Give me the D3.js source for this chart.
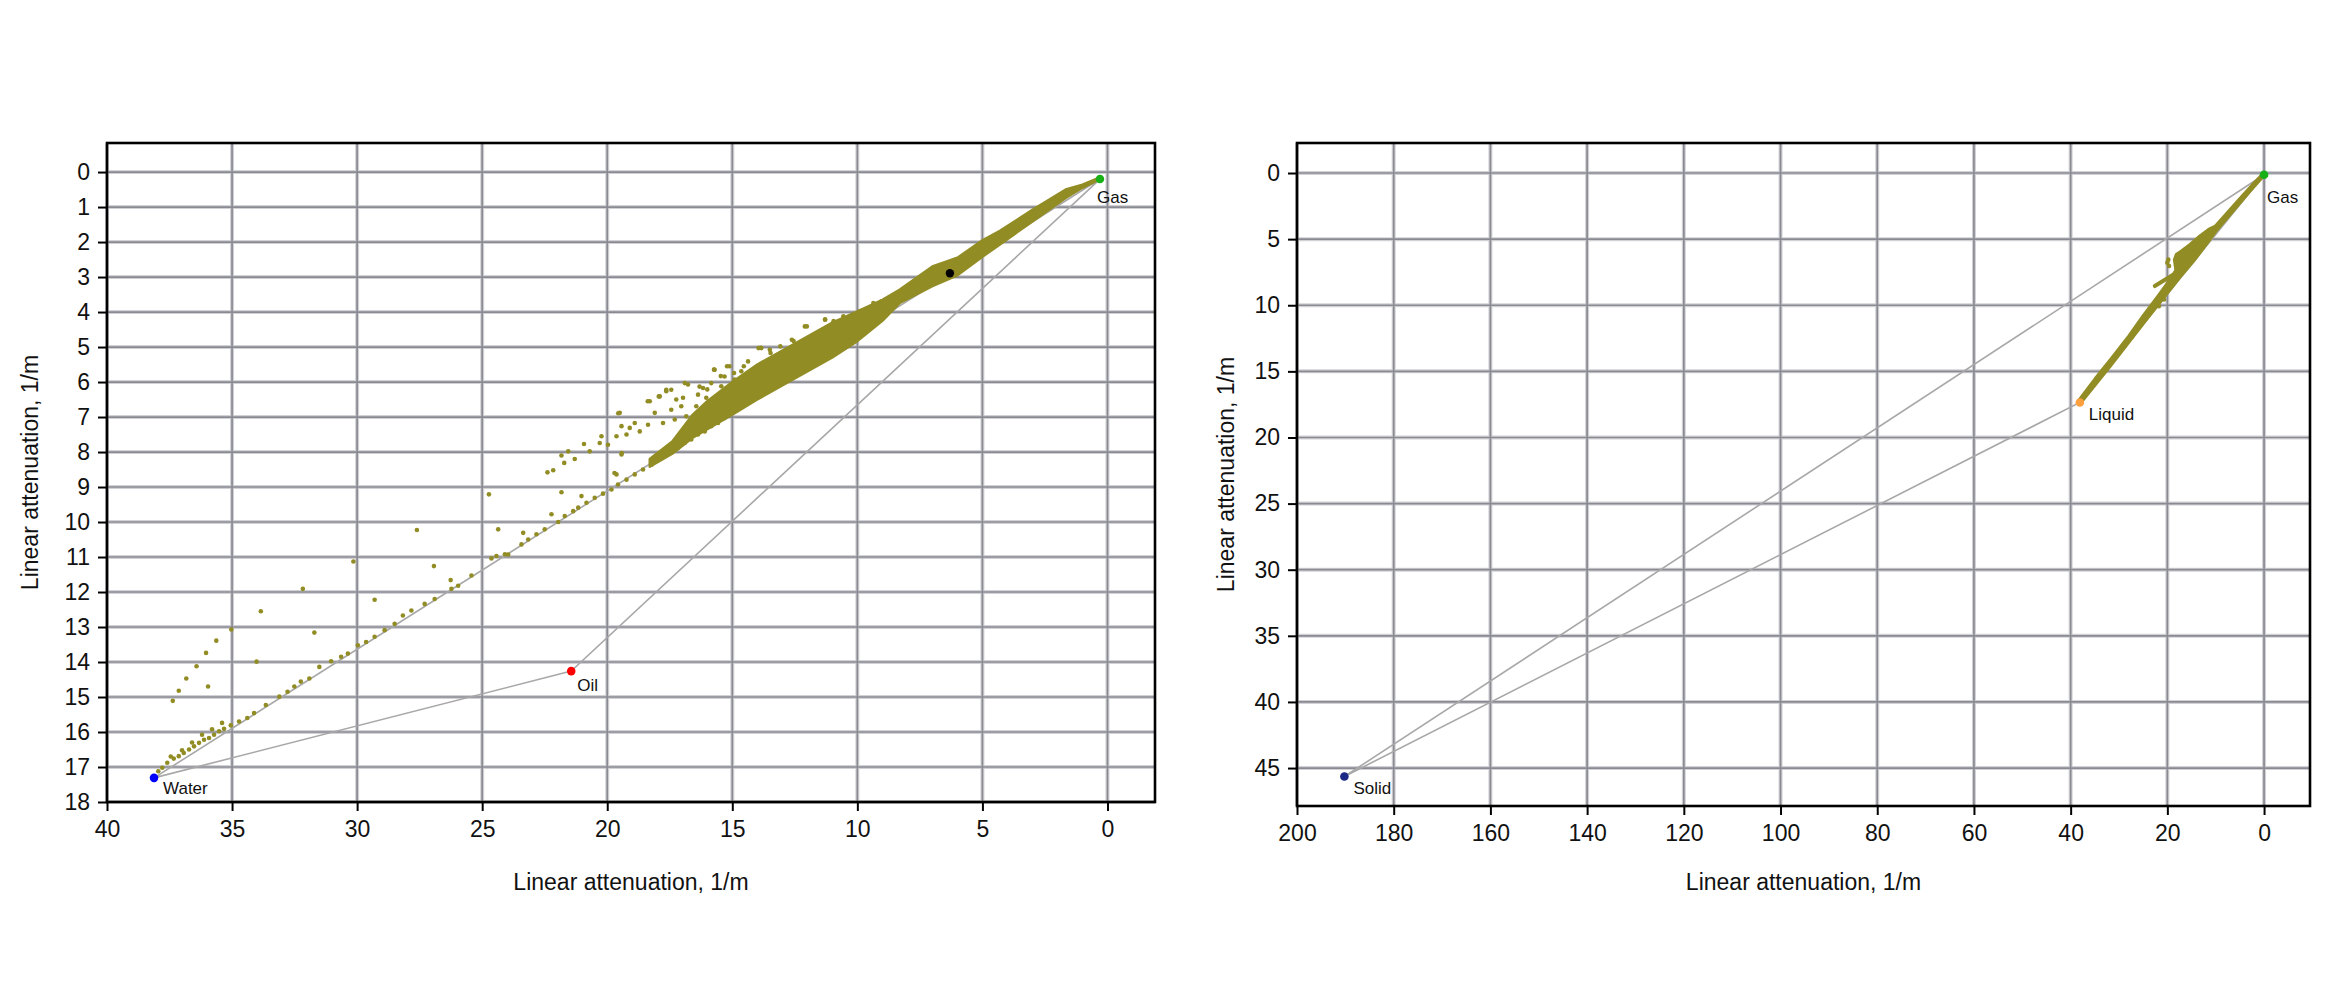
<!DOCTYPE html>
<html>
<head>
<meta charset="utf-8">
<script src="https://cdn.jsdelivr.net/npm/d3@7"></script>
<style>
  body { margin: 0; background: #fff; }
  svg { display: block; }
  text { font-family: "Liberation Sans", Arial, sans-serif; fill: #111; }
</style>
</head>
<body>
<svg id="chart" width="2336" height="1000"></svg>
<script>
// ---- left panel : gas / oil / water ----
const leftXTicks = [40, 35, 30, 25, 20, 15, 10, 5, 0];
const leftYTicks = [0, 1, 2, 3, 4, 5, 6, 7, 8, 9, 10, 11, 12, 13, 14, 15, 16, 17, 18];
const leftRefs = [
  { name: "Gas", x: 0.3, y: 0.2, color: "#17b117" },
  { name: "Oil", x: 21.44, y: 14.26, color: "#ff0000" },
  { name: "Water", x: 38.12, y: 17.31, color: "#0000ff" }
];
const leftMeasured = [{ x: 6.3, y: 2.89 }];
// outline of the dense cloud between gas and ~18 1/m
const leftCore = [
  [0.3, 0.15], [1.0, 0.36], [1.67, 0.5], [3.0, 1.08], [4.3, 1.68], [5.0, 1.95], [6.0, 2.45],
  [7.0, 2.7], [8.3, 3.36], [9.0, 3.65], [10.0, 3.98], [11.0, 4.3], [12.0, 4.7], [13.0, 5.1],
  [14.0, 5.5], [15.0, 6.0], [16.0, 6.55], [16.6, 6.95], [17.4, 7.7], [18.3, 8.2],
  [18.3, 8.42], [17.4, 8.05], [16.6, 7.6], [16.0, 7.35], [15.0, 6.93], [14.0, 6.5], [13.0, 6.1],
  [12.0, 5.7], [11.0, 5.3], [10.0, 4.83], [9.0, 4.25], [8.3, 3.74], [7.0, 3.26], [6.0, 2.95],
  [5.0, 2.42], [4.3, 2.07], [3.0, 1.41], [1.67, 0.74], [1.0, 0.45], [0.4, 0.24]
];
// lower branch (towards water)
const leftBranch = [
  [37.95, 17.12], [37.79, 17.02], [37.59, 16.88], [37.33, 16.76], [37.13, 16.69], [36.93, 16.6],
  [36.72, 16.5], [36.52, 16.41], [36.32, 16.31], [36.12, 16.22], [35.92, 16.17], [35.72, 16.08],
  [35.52, 15.98], [35.32, 15.91], [35.05, 15.81], [37.45, 16.7], [37.0, 16.52], [36.6, 16.3],
  [36.2, 16.08], [35.8, 15.92], [35.4, 15.74], [34.72, 15.7], [34.39, 15.6], [34.12, 15.46],
  [33.65, 15.23], [33.11, 14.99], [32.78, 14.85], [32.51, 14.7], [32.25, 14.56], [31.91, 14.47],
  [31.51, 14.14], [31.04, 13.98], [30.64, 13.85], [30.37, 13.76], [29.97, 13.52], [29.64, 13.43],
  [29.3, 13.28], [28.9, 13.09], [28.5, 12.91], [28.17, 12.67], [27.83, 12.53], [27.3, 12.34],
  [26.9, 12.2], [26.23, 11.91], [25.96, 11.82], [25.43, 11.53], [24.63, 11.04], [24.43, 10.97],
  [24.09, 10.92], [23.96, 10.93], [23.43, 10.64], [23.16, 10.5], [22.83, 10.35], [22.5, 10.21],
  [21.96, 10.0], [21.7, 9.83], [21.36, 9.69], [21.16, 9.59], [20.83, 9.45], [20.5, 9.31],
  [20.17, 9.19], [19.83, 9.07], [19.57, 8.93], [19.23, 8.79], [18.9, 8.64], [18.57, 8.5],
  [18.23, 8.36], [17.97, 8.12], [17.7, 8.07], [17.44, 7.98], [17.17, 7.88], [16.9, 7.74],
  [16.64, 7.64], [16.37, 7.5], [16.1, 7.41], [15.84, 7.26], [15.57, 7.17], [15.31, 7.03]
];
// scattered points above the branch
const leftScatter = [
  [37.37, 15.11], [37.13, 14.82], [36.83, 14.47], [36.42, 14.12], [36.04, 13.74], [35.96, 14.7],
  [35.63, 13.39], [35.03, 13.07], [34.02, 13.99], [33.85, 12.55], [32.17, 11.91], [31.71, 13.16],
  [30.15, 11.13], [29.3, 12.22], [27.61, 10.23], [26.93, 11.26], [26.26, 11.66], [24.73, 9.21],
  [24.36, 10.21], [22.39, 8.58], [22.16, 8.52], [21.83, 8.1], [21.72, 8.31], [21.56, 7.98],
  [21.3, 8.2], [20.93, 7.77], [20.7, 7.98], [20.3, 7.74], [20.23, 7.55], [19.97, 7.79],
  [19.63, 7.55], [19.5, 6.88], [19.43, 7.26], [19.23, 7.5], [19.1, 7.31], [18.9, 7.17],
  [18.7, 7.41], [18.37, 7.22], [18.3, 6.55], [18.1, 6.88], [17.9, 6.41], [17.77, 7.17],
  [17.64, 6.26], [17.44, 6.22], [17.44, 6.79], [17.3, 7.07], [17.24, 6.5], [17.04, 6.69],
  [16.97, 6.45], [16.84, 6.98], [16.77, 6.07], [16.44, 6.69], [16.37, 6.36], [16.17, 6.17],
  [16.04, 6.45], [15.84, 6.03], [15.71, 5.65], [15.71, 6.5], [15.44, 6.12], [15.31, 5.84],
  [15.11, 5.55], [14.91, 5.93], [14.64, 5.69], [14.37, 5.41], [13.84, 5.03], [13.5, 5.08],
  [19.43, 8.07], [19.63, 8.64], [21.83, 9.15], [21.03, 9.26], [22.23, 9.78], [23.36, 10.31],
  [15.73, 5.64], [16.0, 6.21], [15.46, 5.83], [14.93, 5.74], [14.54, 5.55], [13.87, 5.02],
  [13.47, 5.17], [13.08, 4.98], [12.55, 4.83], [12.02, 4.41], [11.29, 4.21], [10.95, 4.26],
  [10.56, 4.12], [9.89, 3.98], [9.36, 3.83], [9.03, 3.69], [8.3, 3.45], [7.77, 3.26],
  [6.98, 2.79], [6.71, 2.69], [6.05, 2.5], [4.99, 2.07], [4.19, 1.79], [15.72, 5.65],
  [15.21, 5.55], [13.95, 5.03], [12.62, 4.79], [12.1, 4.41], [11.29, 4.22], [10.25, 4.13],
  [9.36, 3.74], [8.18, 3.41], [7.0, 2.98], [5.52, 2.41], [17.94, 6.41], [17.64, 6.22],
  [16.9, 6.03], [16.31, 6.13], [18.38, 6.55], [19.56, 6.89], [19.42, 8.03], [19.71, 8.6]
];

// ---- right panel : gas / liquid / solid ----
const rightXTicks = [200, 180, 160, 140, 120, 100, 80, 60, 40, 20, 0];
const rightYTicks = [0, 5, 10, 15, 20, 25, 30, 35, 40, 45];
const rightRefs = [
  { name: "Gas", x: 0, y: 0.13, color: "#17b117" },
  { name: "Liquid", x: 38.1, y: 17.35, color: "#ffa040" },
  { name: "Solid", x: 190.2, y: 45.64, color: "#1c2a86" }
];
const rightCore = [
  [38.4, 17.2], [35, 15.55], [31.5, 13.95], [28, 12.3], [25, 10.75], [22, 9.3], [19.5, 8.05],
  [18.3, 7.35], [18.6, 6.55], [18.2, 6.15], [17.2, 5.9], [15.4, 5.4], [13.3, 4.75], [11.5, 4.25],
  [10.1, 4.0], [8.3, 3.25], [5.5, 2.1], [2.5, 0.9], [0.5, 0.12], [0, 0.05],
  [0.2, 0.3], [3, 1.45], [9.75, 4.35], [14.35, 6.6], [17.5, 7.95], [24.6, 11.25], [31.7, 14.6], [38.1, 17.5]
];
const rightSpur = [[17.53, 7.41], [22.6, 8.55]];
const rightScatter = [
  [20.7, 9.56], [21.77, 10.07], [23.53, 10.45], [24.6, 11.0], [26.0, 11.7], [27.4, 12.4],
  [28.8, 13.05], [30.25, 13.7], [31.66, 14.3], [33.07, 15.0], [34.49, 15.62], [35.9, 16.28],
  [20.0, 6.78], [19.65, 7.03], [19.8, 6.55]
];

const svg = d3.select("#chart");
const dotColor = "#928c24";

function panel(o) {
  const x = d3.scaleLinear().domain(o.xDomain).range([o.left, o.right]);
  const y = d3.scaleLinear().domain(o.yDomain).range([o.top, o.bottom]);
  const g = svg.append("g");

  // blurred-looking grid: light halo + darker core
  [["#d2d2d6", 4], ["#8a8a93", 1.7]].forEach(([c, w]) => {
    g.append("g").selectAll("line").data(o.yTicks).join("line")
      .attr("x1", o.left).attr("x2", o.right)
      .attr("y1", d => y(d)).attr("y2", d => y(d))
      .attr("stroke", c).attr("stroke-width", w);
    g.append("g").selectAll("line").data(o.xTicks).join("line")
      .attr("y1", o.top).attr("y2", o.bottom)
      .attr("x1", d => x(d)).attr("x2", d => x(d))
      .attr("stroke", c).attr("stroke-width", w);
  });

  // triangle between reference phases
  const line = d3.line().x(d => x(d.x)).y(d => y(d.y));
  const r = o.refs;
  g.append("path").datum([r[0], r[1], r[2], r[0]])
    .attr("d", line).attr("fill", "none")
    .attr("stroke", "#a8a8a8").attr("stroke-width", 1.6);

  // dense cloud
  const area = d3.line().x(d => x(d[0])).y(d => y(d[1])).curve(d3.curveLinearClosed);
  g.append("path").datum(o.core).attr("d", area)
    .attr("fill", dotColor).attr("stroke", dotColor).attr("stroke-width", 2.5)
    .attr("stroke-linejoin", "round");

  if (o.spur) {
    g.append("path").datum(o.spur)
      .attr("d", d3.line().x(d => x(d[0])).y(d => y(d[1])))
      .attr("stroke", dotColor).attr("stroke-width", 4).attr("stroke-linecap", "round");
  }

  g.append("g").selectAll("circle").data(o.points).join("circle")
    .attr("cx", d => x(d[0])).attr("cy", d => y(d[1])).attr("r", 2.3)
    .attr("fill", dotColor);

  if (o.measured) {
    g.append("g").selectAll("circle").data(o.measured).join("circle")
      .attr("cx", d => x(d.x)).attr("cy", d => y(d.y)).attr("r", 4.2).attr("fill", "#000");
  }

  // reference markers
  g.append("g").selectAll("circle").data(r).join("circle")
    .attr("cx", d => x(d.x)).attr("cy", d => y(d.y)).attr("r", 4.3)
    .attr("fill", d => d.color);
  g.append("g").selectAll("text").data(r).join("text")
    .attr("x", d => x(d.x) + o.labelOff[d.name][0])
    .attr("y", d => y(d.y) + o.labelOff[d.name][1])
    .attr("font-size", 17).text(d => d.name);

  // axes
  const ay = g.append("g").attr("transform", `translate(${o.left},0)`)
    .call(d3.axisLeft(y).tickValues(o.yTicks).tickSize(9).tickPadding(8));
  const ax = g.append("g").attr("transform", `translate(0,${o.bottom})`)
    .call(d3.axisBottom(x).tickValues(o.xTicks).tickSize(9).tickPadding(10));
  [ax, ay].forEach(a => {
    a.select(".domain").remove();
    a.selectAll(".tick line").attr("stroke", "#000").attr("stroke-width", 2);
    a.selectAll(".tick text").attr("font-size", 23).attr("fill", "#111")
      .style("font-family", "'Liberation Sans', Arial, sans-serif");
  });

  // frame
  g.append("rect").attr("x", o.left).attr("y", o.top)
    .attr("width", o.right - o.left).attr("height", o.bottom - o.top)
    .attr("fill", "none").attr("stroke", "#000").attr("stroke-width", 2.6);

  // titles
  g.append("text").attr("x", (o.left + o.right) / 2).attr("y", 890)
    .attr("text-anchor", "middle").attr("font-size", 23).text("Linear attenuation, 1/m");
  g.append("text")
    .attr("transform", `translate(${o.yTitleX},${(o.top + o.bottom) / 2}) rotate(-90)`)
    .attr("text-anchor", "middle").attr("font-size", 23).text("Linear attenuation, 1/m");
}

panel({
  left: 107, right: 1155, top: 143, bottom: 802,
  xDomain: [40, -1.9], yDomain: [-0.83, 18],
  xTicks: leftXTicks, yTicks: leftYTicks,
  refs: leftRefs, measured: leftMeasured,
  core: leftCore, points: leftBranch.concat(leftScatter),
  labelOff: { Gas: [-3, 24], Oil: [6, 20], Water: [9, 16] },
  yTitleX: 38
});

panel({
  left: 1297, right: 2310, top: 143, bottom: 806,
  xDomain: [200, -9.5], yDomain: [-2.27, 47.87],
  xTicks: rightXTicks, yTicks: rightYTicks,
  refs: rightRefs,
  core: rightCore, spur: rightSpur, points: rightScatter,
  labelOff: { Gas: [3, 28], Liquid: [9, 18], Solid: [9, 17] },
  yTitleX: 1234
});
</script>
</body>
</html>
